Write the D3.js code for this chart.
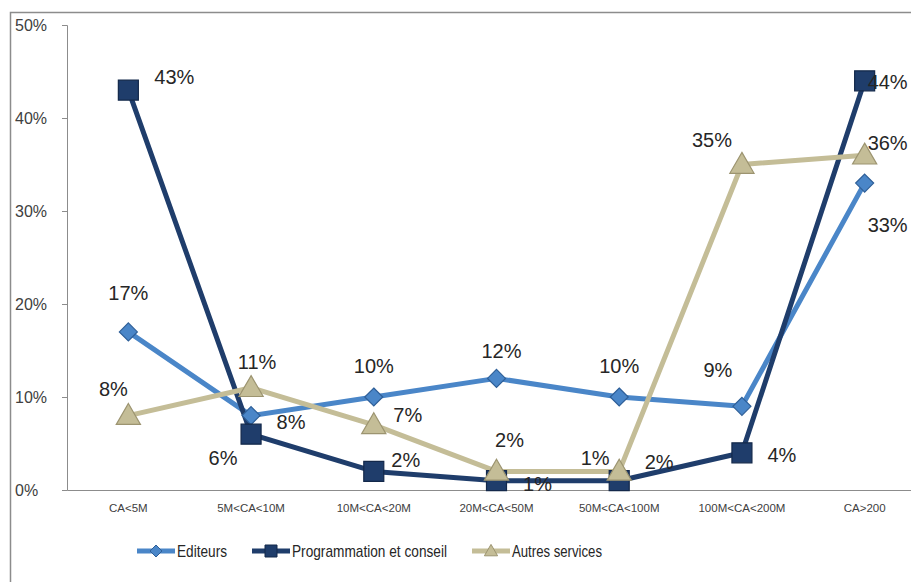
<!DOCTYPE html>
<html><head><meta charset="utf-8">
<script src="https://cdn.jsdelivr.net/npm/d3@7"></script>
<style>body{margin:0;background:#fff;}svg{display:block;}</style>
</head><body>
<svg id="c" width="911" height="582"></svg>
<script>
const categories = ["CA<5M","5M<CA<10M","10M<CA<20M","20M<CA<50M","50M<CA<100M","100M<CA<200M","CA>200"];
const editeurs = [17, 8, 10, 12, 10, 9, 33];
const programmation = [43, 6, 2, 1, 1, 4, 44];
const autres = [8, 11, 7, 2, 2, 35, 36];
const yTicks = [0, 10, 20, 30, 40, 50];
const seriesNames = ["Editeurs", "Programmation et conseil", "Autres services"];

const series = [
  {name: seriesNames[0], values: editeurs, color: "#4A86C8", dark: "#2E5F98", marker: "diamond",
   off: [[0,-39],[40,6],[0,-31],[5,-27],[0,-31],[-24,-36],[23,42]]},
  {name: seriesNames[1], values: programmation, color: "#1F3D6B", dark: "#13284A", marker: "square",
   off: [[46,-13],[-28,24],[32,-11],[41,3],[-24,-23],[40,2],[23,1]]},
  {name: seriesNames[2], values: autres, color: "#C4BD97", dark: "#9C9470", marker: "triangle",
   off: [[-15,-27],[6,-26],[34,-10],[13,-31],[40,-9],[-30,-25],[23,-12]]}
];

const svg = d3.select("#c");
const x = d3.scaleBand().domain(categories).range([67, 926]);
const y = d3.scaleLinear().domain([0, 50]).range([490, 25]);
const cx = c => x(c) + x.bandwidth() / 2;

// chart border
svg.append("path").attr("d", "M10.5,582 V12.5 H911").attr("fill","none").attr("stroke","#8c8c8c").attr("stroke-width",1.5);

// y axis
const yAxis = d3.axisLeft(y).tickValues(yTicks).tickFormat(d => d + "%").tickSize(5).tickPadding(14);
const gy = svg.append("g").attr("transform","translate(67,0)").call(yAxis);
gy.select(".domain").attr("stroke","#8c8c8c");
gy.selectAll(".tick line").attr("stroke","#8c8c8c");
gy.selectAll(".tick text").attr("font-family","Liberation Sans, Arial, sans-serif").attr("font-size",16).attr("fill","#404040").attr("text-anchor","start").attr("x",-52);

// x axis
const xAxis = d3.axisBottom(x).tickSize(0).tickPadding(14);
const gx = svg.append("g").attr("transform","translate(0,490)").call(xAxis);
gx.select(".domain").attr("stroke","#8c8c8c");
gx.selectAll(".tick text").attr("font-family","Liberation Sans, Arial, sans-serif").attr("font-size",11.5).attr("fill","#404040");

// markers
function markerPath(type, s) {
  if (type === "diamond") return `M0,${-s} L${s},0 L0,${s} L${-s},0 Z`;
  if (type === "square") return `M${-s},${-s} H${s} V${s} H${-s} Z`;
  return `M0,${-s*1.1} L${s*1.1},${s*0.8} L${-s*1.1},${s*0.8} Z`;
}
const msize = {diamond: 9, square: 10, triangle: 11};

const line = d3.line().x((d,i) => cx(categories[i])).y(d => y(d));

series.forEach(s => {
  svg.append("path").datum(s.values).attr("d", line).attr("fill","none")
    .attr("stroke", s.color).attr("stroke-width", 5).attr("stroke-linejoin","round");
});
series.forEach(s => {
  const g = svg.append("g");
  s.values.forEach((v,i) => {
    g.append("path").attr("d", markerPath(s.marker, msize[s.marker]))
      .attr("transform", `translate(${cx(categories[i])},${y(v)})`)
      .attr("fill", s.color).attr("stroke", s.dark).attr("stroke-width", 1.2);
  });
});
series.forEach(s => {
  s.values.forEach((v,i) => {
    svg.append("text").attr("x", cx(categories[i]) + s.off[i][0]).attr("y", y(v) + s.off[i][1])
      .attr("text-anchor","middle").attr("dominant-baseline","central")
      .attr("font-family","Liberation Sans, Arial, sans-serif").attr("font-size",20).attr("fill","#262626")
      .text(v + "%");
  });
});

// legend
const legX = [137, 252, 472];
const legW = [50, 155, 90];
series.forEach((s, i) => {
  const g = svg.append("g").attr("transform", `translate(${legX[i]},551)`);
  g.append("line").attr("x1",0).attr("x2",38).attr("y1",0).attr("y2",0).attr("stroke", s.color).attr("stroke-width",5);
  g.append("path").attr("d", markerPath(s.marker, 6)).attr("transform","translate(19,0)")
    .attr("fill", s.color).attr("stroke", s.dark).attr("stroke-width",1);
  g.append("text").attr("x", 40).attr("y", 0).attr("dominant-baseline","central")
    .attr("textLength", legW[i]).attr("lengthAdjust","spacingAndGlyphs")
    .attr("font-family","Liberation Sans, Arial, sans-serif").attr("font-size",17).attr("fill","#262626").text(s.name);
});
</script>
</body></html>
